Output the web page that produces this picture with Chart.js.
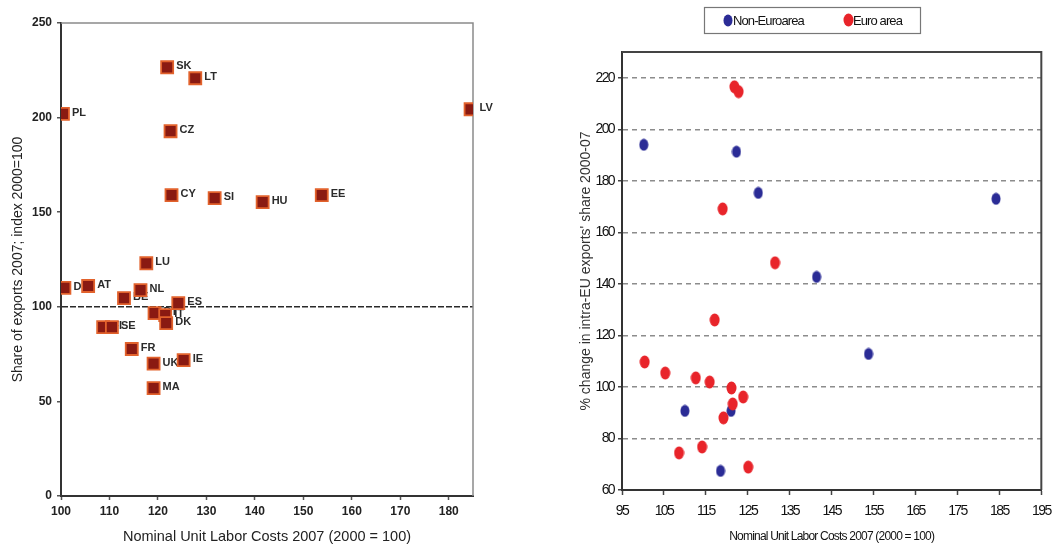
<!DOCTYPE html>
<html>
<head>
<meta charset="utf-8">
<script src="https://cdn.jsdelivr.net/npm/chart.js@4.4.0/dist/chart.umd.min.js"></script>
<style>
    html, body { margin: 0; padding: 0; background: #fff; }
    #wrapLeft { position: absolute; left: 0; top: 0; width: 530px; height: 546px; }
    #wrapRight { position: absolute; left: 530px; top: 0; width: 531px; height: 546px; }
</style>
</head>
<body>
<div id="wrapLeft"><canvas id="leftChart"></canvas></div>
<div id="wrapRight"><canvas id="rightChart"></canvas></div>
<script>
// left panel: labelled countries
const countries = ['PL', 'SK', 'LT', 'CZ', 'CY', 'SI', 'HU', 'EE', 'LV', 'LU', 'DE', 'AT', 'NL', 'BE', 'ES', 'PT', 'IT', 'DK', 'FI', 'SE', 'FR', 'UK', 'IE', 'MA'];
const unitLaborCosts = [100.4, 121.9, 127.7, 122.6, 122.8, 131.7, 141.6, 153.8, 184.5, 117.6, 100.7, 105.6, 116.4, 113.0, 124.2, 119.3, 121.5, 121.7, 108.7, 110.5, 114.6, 119.1, 125.3, 119.1];
const exportShare = [202, 226.6, 220.8, 192.8, 159, 157.4, 155.3, 159, 204.4, 123, 110, 111, 108.8, 104.6, 101.9, 96.7, 95.6, 91.4, 89.3, 89.3, 77.7, 70, 71.8, 57];
const leftXTicks = [100, 110, 120, 130, 140, 150, 160, 170, 180];
const leftYTicks = [0, 50, 100, 150, 200, 250];

// right panel: euro / non-euro
const nonEuroX = [100.2, 122.3, 127.5, 184.2, 141.4, 153.8, 110, 121, 118.5];
const nonEuroY = [194, 191.3, 175.3, 173, 142.7, 112.8, 90.7, 90.7, 67.4];
const euroX = [121.8, 122.8, 119, 131.5, 117.1, 100.4, 105.3, 112.6, 115.9, 121.1, 123.9, 121.4, 119.2, 114.1, 108.6, 125.1];
const euroY = [216.5, 214.6, 169.1, 148.2, 126, 109.7, 105.4, 103.5, 101.9, 99.6, 96.1, 93.4, 88, 76.7, 74.4, 68.9];
const rightXTicks = [95, 105, 115, 125, 135, 145, 155, 165, 175, 185, 195];
const rightYTicks = [60, 80, 100, 120, 140, 160, 180, 200, 220];
const legendLabels = ['Non-Euroarea', 'Euro area'];

const sans = "'Liberation Sans', Arial, sans-serif";
const blue = '#2b2c96';
const red = '#e8242a';

const toPoints = (xs, ys) => xs.map((x, i) => ({ x: x, y: ys[i] }));

// ellipse marker used as point style
function ellipse(color, w, h) {
    const c = document.createElement('canvas');
    c.width = w;
    c.height = h;
    const g = c.getContext('2d');
    g.fillStyle = color;
    g.beginPath();
    g.ellipse(w / 2, h / 2, w / 2 - 0.5, h / 2 - 0.5, 0, 0, Math.PI * 2);
    g.fill();
    return c;
}

// squeeze text like the narrow font of the original
function squeezed(fn, spacing) {
    return function (...args) {
        const ctx = this.ctx;
        const old = ctx.letterSpacing;
        ctx.letterSpacing = spacing;
        fn.apply(this, args);
        ctx.letterSpacing = old;
    };
}

function squeezeScale(labelSpacing, titleSpacing) {
    return s => {
        if (s._squeezed) return;
        s.drawLabels = squeezed(s.drawLabels, labelSpacing);
        s.drawTitle = squeezed(s.drawTitle, titleSpacing);
        s._squeezed = true;
    };
}

// top and right sides of the frame
function framePlugin(color, width) {
    return {
        id: 'frame',
        beforeDatasetsDraw(chart) {
            const { ctx, chartArea: a } = chart;
            ctx.save();
            ctx.strokeStyle = color;
            ctx.lineWidth = width;
            ctx.beginPath();
            ctx.moveTo(a.left, a.top);
            ctx.lineTo(a.right, a.top);
            ctx.lineTo(a.right, a.bottom);
            ctx.stroke();
            ctx.restore();
        }
    };
}

const pointLabels = {
    id: 'pointLabels',
    beforeDatasetsDraw(chart) {
        const ctx = chart.ctx;
        const meta = chart.getDatasetMeta(0);
        ctx.save();
        ctx.font = 'bold 11px ' + sans;
        ctx.fillStyle = '#2b2b2b';
        ctx.textBaseline = 'middle';
        meta.data.forEach((pt, i) => {
            ctx.fillText(countries[i], pt.x + 9, pt.y - 1);
        });
        ctx.restore();
    }
};

new Chart(document.getElementById('leftChart'), {
    type: 'scatter',
    data: {
        datasets: [{
            data: toPoints(unitLaborCosts, exportShare),
            pointStyle: 'rect',
            pointRadius: 8.5,
            pointHoverRadius: 8.5,
            backgroundColor: '#8a1a12',
            borderColor: '#e2622c',
            borderWidth: 1.8
        }]
    },
    options: {
        responsive: true,
        maintainAspectRatio: false,
        animation: false,
        layout: { padding: { top: 23, right: 57, left: 0, bottom: 0 } },
        plugins: { legend: { display: false }, tooltip: { enabled: false } },
        scales: {
            x: {
                type: 'linear',
                min: 100,
                max: 185,
                afterBuildTicks: s => { s.ticks = leftXTicks.map(v => ({ value: v })); },
                afterFit: s => { s.height = 50; },
                grid: { drawOnChartArea: false, tickLength: 4, tickColor: '#555', tickWidth: 1.5 },
                border: { color: '#333', width: 2 },
                ticks: { color: '#222', padding: 4, font: { family: sans, size: 12, weight: 'bold' } },
                title: {
                    display: true,
                    text: 'Nominal Unit Labor Costs 2007 (2000 = 100)',
                    color: '#222',
                    padding: { top: 0, bottom: 0 },
                    font: { family: sans, size: 14.5 }
                }
            },
            y: {
                type: 'linear',
                min: 0,
                max: 250,
                afterBuildTicks: s => { s.ticks = leftYTicks.map(v => ({ value: v })); },
                afterFit: s => { s.width = 61; },
                grid: {
                    color: c => (c.tick && c.tick.value === 100) ? '#2a2a2a' : 'rgba(0,0,0,0)',
                    lineWidth: 1.5,
                    tickLength: 4,
                    tickColor: '#555',
                    tickWidth: 1.5
                },
                border: { color: '#333', width: 2, dash: [6, 2] },
                ticks: { color: '#222', padding: 5, font: { family: sans, size: 12, weight: 'bold' } },
                title: {
                    display: true,
                    text: 'Share of exports 2007; index 2000=100',
                    color: '#222',
                    padding: { top: 10, bottom: 0 },
                    font: { family: sans, size: 14 }
                }
            }
        }
    },
    plugins: [pointLabels, framePlugin('#8a8a8a', 1.5)]
});

const blueMark = ellipse(blue, 10, 13);
const redMark = ellipse(red, 11, 14);

const legendBox = {
    id: 'legendBox',
    afterDraw(chart) {
        const ctx = chart.ctx;
        ctx.save();
        ctx.strokeStyle = '#777';
        ctx.lineWidth = 1.2;
        ctx.strokeRect(174.5, 7.5, 216, 26);
        ctx.drawImage(blueMark, 193, 14);
        ctx.drawImage(redMark, 313, 13);
        ctx.font = '13px ' + sans;
        ctx.letterSpacing = '-0.9px';
        ctx.fillStyle = '#111';
        ctx.textBaseline = 'middle';
        ctx.fillText(legendLabels[0], 203, 21);
        ctx.fillText(legendLabels[1], 323, 21);
        ctx.restore();
    }
};

new Chart(document.getElementById('rightChart'), {
    type: 'scatter',
    data: {
        datasets: [
            {
                label: legendLabels[0],
                data: toPoints(nonEuroX, nonEuroY),
                pointStyle: blueMark,
                pointRadius: 6,
                order: 1
            },
            {
                label: legendLabels[1],
                data: toPoints(euroX, euroY),
                pointStyle: redMark,
                pointRadius: 6,
                order: 0
            }
        ]
    },
    options: {
        responsive: true,
        maintainAspectRatio: false,
        animation: false,
        layout: { padding: { top: 52, right: 13, left: 0, bottom: 0 } },
        plugins: { legend: { display: false }, tooltip: { enabled: false } },
        scales: {
            x: {
                type: 'linear',
                min: 95,
                max: 195,
                afterBuildTicks: s => { s.ticks = rightXTicks.map(v => ({ value: v })); },
                afterFit: s => { s.height = 56; },
                afterUpdate: squeezeScale('-1.6px', '-0.8px'),
                grid: { drawOnChartArea: false, tickLength: 5, tickColor: '#444', tickWidth: 1.5 },
                border: { color: '#333', width: 2 },
                ticks: { color: '#111', padding: 8, font: { family: sans, size: 14 } },
                title: {
                    display: true,
                    text: 'Nominal Unit Labor Costs 2007 (2000 = 100)',
                    color: '#111',
                    padding: { top: 0, bottom: 2 },
                    font: { family: sans, size: 12 }
                }
            },
            y: {
                type: 'linear',
                min: 60,
                max: 230,
                afterBuildTicks: s => { s.ticks = rightYTicks.map(v => ({ value: v })); },
                afterFit: s => { s.width = 92; },
                afterUpdate: squeezeScale('-1.6px', '0px'),
                grid: {
                    color: c => (c.tick && c.tick.value === 60) ? 'rgba(0,0,0,0)' : '#8c8c8c',
                    lineWidth: 1.5,
                    tickLength: 4,
                    tickColor: '#444',
                    tickWidth: 1.5
                },
                border: { color: '#333', width: 2, dash: [5, 4] },
                ticks: { color: '#111', padding: 4, font: { family: sans, size: 14 } },
                title: {
                    display: true,
                    text: "% change in intra-EU exports' share 2000-07",
                    color: '#333',
                    padding: { top: 48, bottom: 0 },
                    font: { family: sans, size: 14 }
                }
            }
        }
    },
    plugins: [legendBox, framePlugin('#444', 2)]
});
</script>
</body>
</html>
